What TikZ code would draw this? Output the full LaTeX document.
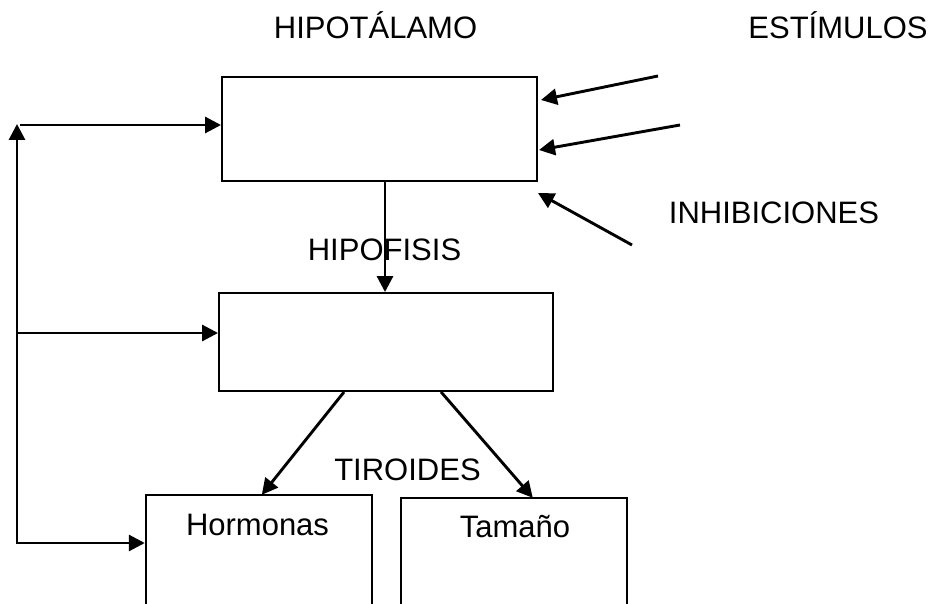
\documentclass[tikz,border=0pt]{standalone}
\usepackage{fontspec}
\setmainfont{Liberation Sans}
\usetikzlibrary{arrows.meta,calc}
\begin{document}
\begin{tikzpicture}[x=1pt,y=-1pt,
  lbl/.style={anchor=base,inner sep=0pt,font=\fontsize{31}{37}\selectfont},
  box/.style={draw,line width=1.9pt,rectangle,inner sep=0pt},
  openbox/.style={rectangle,inner sep=0pt},
  arr/.style={line width=2.9pt,-{Triangle[length=16pt,width=16pt]}}]
\useasboundingbox (0,0) rectangle (939,604);

% titles and labels
\node[lbl] (thyp) at (375.5,39) {HIPOTÁLAMO};
\node[lbl] (test) at (838,39) {ESTÍMULOS};
\node[lbl] (tinh) at (774,223) {INHIBICIONES};
\node[lbl] (thip) at (384.5,260) {HIPOFISIS};
\node[lbl] (ttir) at (407.5,480) {TIROIDES};

% boxes
\node[box,minimum width=315pt,minimum height=104pt] (hyp) at (379.5,129) {};
\node[box,minimum width=334pt,minimum height=98pt] (hip) at (386,342) {};
\node[openbox,minimum width=226pt,minimum height=109pt] (hor) at (259,549.5) {};
\node[openbox,minimum width=226pt,minimum height=106pt] (tam) at (514,551) {};
\draw[line width=1.9pt] (hor.south west) -- (hor.north west) -- (hor.north east) -- (hor.south east);
\draw[line width=1.9pt] (tam.south west) -- (tam.north west) -- (tam.north east) -- (tam.south east);
\node[lbl] (thor) at (257.5,535) {Hormonas};
\node[lbl] (ttam) at (515,537) {Tamaño};

% hypothalamus to pituitary
\coordinate (axis) at (385,0);
\draw[arr] (axis |- hyp.south) -- (axis |- hip.north);

% pituitary to the thyroid boxes
\draw[arr] ($(hip.south west)+(126,0)$) -- ($(hor.north west)+(116,0)$);
\draw[arr] ($(hip.south west)+(223,0)$) -- ($(tam.north west)+(132,0)$);

% incoming stimuli and inhibitions
\coordinate (s1) at (658,76);
\coordinate (s2) at (680,125);
\coordinate (s3) at (632,245);
\draw[arr] (s1) -- (541,100);
\draw[arr] (s2) -- (539,150);
\draw[arr] (s3) -- (538,193);

% feedback loop on the left
\coordinate (fbl) at (17,543);
\coordinate (fbt) at (17,124);
\draw[arr] (fbt |- fbl) -- ($(hor.west |- fbl)+(-1,0)$);
\draw[arr,line join=miter] ($(fbl)+(1.45,0)$) -- (fbl) -- (fbt);
\draw[arr] (20,125) -- (hyp.west |- 0,125);
\draw[arr] (17,333) -- (hip.west |- 0,333);
\end{tikzpicture}
\end{document}
